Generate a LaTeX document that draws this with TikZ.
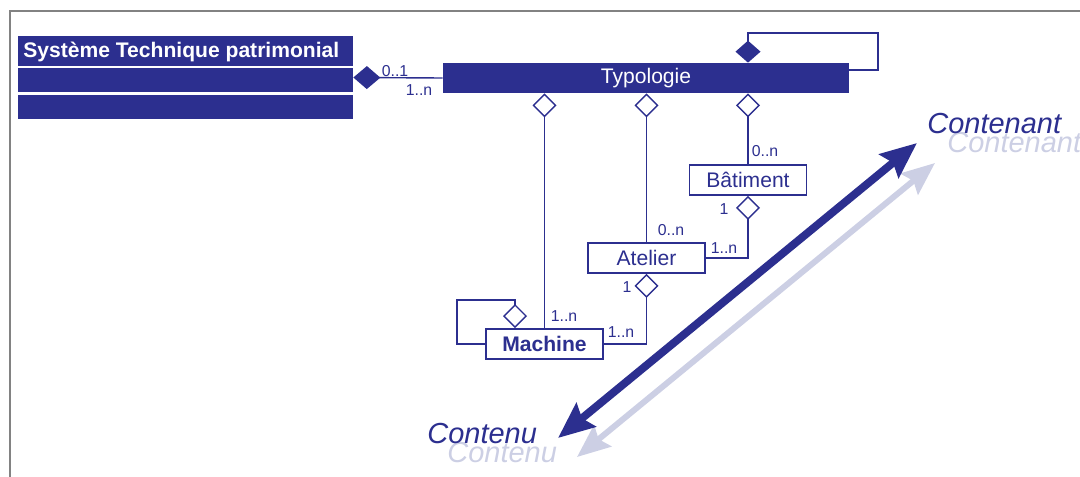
\documentclass[tikz,border=0pt]{standalone}
\usepackage{fontspec}
\setmainfont{Liberation Sans}
\usetikzlibrary{arrows.meta,calc}

\definecolor{umlblue}{RGB}{44,47,143}
\definecolor{ghost}{RGB}{204,207,228}
\definecolor{framegray}{RGB}{130,130,130}
\newcommand\pxu{0.02cm}

\begin{document}
\begin{tikzpicture}[x=0.02cm,y=-0.02cm,
  classbox/.style={draw=umlblue, line width=1.1pt, fill=white, text=umlblue,
    minimum width=117*\pxu, minimum height=30*\pxu, inner sep=0pt,
    font=\fontsize{12}{14}\selectfont},
  barbox/.style={fill=umlblue, text=white, inner sep=0pt,
    font=\fontsize{12}{14}\selectfont},
  link/.style={draw=umlblue, line width=0.8pt},
  agg/.style={{Diamond[open,length=4.8mm,width=4.8mm]}-},
  comp/.style={{Diamond[length=4.4mm,width=5mm]}-},
  mult/.style={text=umlblue, inner sep=0pt, font=\fontsize{9}{10}\selectfont},
  bigword/.style={inner sep=0pt, font=\itshape\fontsize{16.5}{18}\selectfont},
  axisarrow/.style={line width=4.5pt,
    {Stealth[length=7.2mm,width=6mm,inset=1mm]}-{Stealth[length=7.2mm,width=6mm,inset=1mm]}},
  ghostarrow/.style={ghost, line width=3.4pt,
    {Stealth[length=6.6mm,width=5.4mm,inset=1mm]}-{Stealth[length=6.6mm,width=5.4mm,inset=1mm]}}
]
\useasboundingbox (0,0) rectangle (1080,477);

% outer frame (top and left edges)
\coordinate (fbl) at (10,477);
\coordinate (ftl) at (10,11);
\coordinate (ftr) at (1080,11);
\draw[framegray, line width=1.2pt] (fbl) -- (ftl) -- (ftr);

% Système Technique patrimonial class (three compartments)
\node[fill=umlblue, minimum width=335*\pxu, minimum height=83*\pxu, inner sep=0pt] (stp) at (185.5,77.5) {};
\draw[white, line width=1.1pt] (stp.west |- 0,67) -- (stp.east |- 0,67);
\draw[white, line width=1.3pt] (stp.west |- 0,93.5) -- (stp.east |- 0,93.5);
\node[anchor=west, text=white, inner sep=0pt, font=\bfseries\fontsize{12}{14}\selectfont] (stptitle) at (23,52) {Système Technique patrimonial};

% Typologie class
\node[barbox, minimum width=406*\pxu, minimum height=30*\pxu] (typo) at (646,78) {Typologie};

% subclasses
\node[classbox] (bat) at (748,180) {Bâtiment};
\node[classbox] (atel) at (646.5,258) {Atelier};
\node[classbox, font=\bfseries\fontsize{12}{14}\selectfont] (mach) at (544.5,344) {Machine};

% composition Système Technique -- Typologie
\draw[link, {Diamond[length=5.4mm,width=4.6mm]}-] (stp.east) -- (typo.west);
\node[mult] (m01) at (395,71) {0..1};
\node[mult] (m1n) at (419,90) {1..n};

% self composition on Typologie
\coordinate (tloop) at (878,33);
\draw[link, comp] (typo.north -| bat.north) |- (tloop) |- ([yshift=0.16cm]typo.east);

% aggregations from Typologie
\draw[link, agg] (typo.south -| bat.north) -- (bat.north);
\draw[link, agg] (typo.south -| atel.north) -- (atel.north);
\draw[link, agg] (typo.south -| mach.north) -- (mach.north);
\node[mult] (mbat) at (765,151) {0..n};
\node[mult] (matel) at (671,230) {0..n};
\node[mult] (mmach) at (564,316) {1..n};

% Bâtiment -- Atelier
\draw[link, agg] (bat.south) |- (atel.east);
\node[mult] (mbat1) at (724,209) {1};
\node[mult] (matel1n) at (724,248) {1..n};

% Atelier -- Machine
\draw[link, agg] (atel.south) |- (mach.east);
\node[mult] (matel1) at (627,287) {1};
\node[mult] (mmach1n) at (621,332) {1..n};

% self aggregation on Machine
\coordinate (mloop) at (457,300);
\draw[link, agg] ([xshift=30*\pxu]mach.north west) |- (mloop) |- (mach.west);

% container / content axis with its shadow
\coordinate (glow) at (577,457);
\coordinate (ghigh) at (935,163);
\draw[ghostarrow] (glow) -- (ghigh);
\coordinate (dlow) at (558,438);
\coordinate (dhigh) at (917,143);
\draw[axisarrow, umlblue] (dlow) -- (dhigh);

\node[bigword, text=ghost, anchor=base west] (contenantg) at (947,152) {Contenant};
\node[bigword, text=umlblue, anchor=base west] (contenant) at (927,133) {Contenant};
\node[bigword, text=ghost, anchor=base west] (contenug) at (447,462) {Contenu};
\node[bigword, text=umlblue, anchor=base west] (contenu) at (427,443) {Contenu};
\end{tikzpicture}
\end{document}
